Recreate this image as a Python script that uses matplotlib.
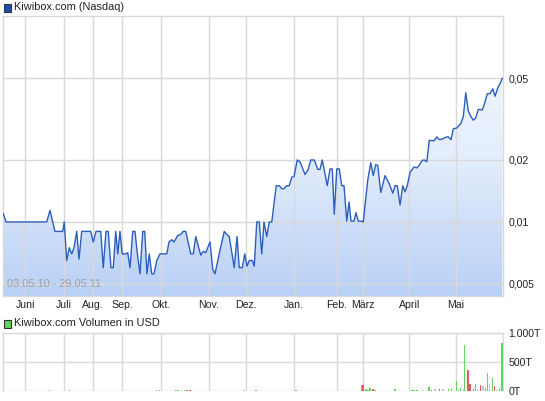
import numpy as np
import matplotlib
matplotlib.use('Agg')
import matplotlib.pyplot as plt
from matplotlib.colors import LinearSegmentedColormap
from matplotlib.patches import Rectangle

plt.rcParams['font.family'] = ['Liberation Sans', 'DejaVu Sans']

# Kurs (Handelstag-Index, Preis in USD)
t_kurs = [0.2, 1.3, 17.6, 18.9, 20.9, 24.0, 24.6, 25.6, 26.6, 27.6, 28.5, 29.6, 30.5, 31.6,
          35.2, 36.2, 37.3, 39.2, 40.2, 41.3, 42.2, 43.3, 44.2, 45.2, 46.0, 46.9, 47.8, 49.3,
          50.0, 50.9, 52.0, 52.9, 53.8, 54.9, 56.0, 56.8, 57.7, 58.6, 59.6, 60.5, 61.6, 62.9,
          65.6, 66.5, 67.6, 68.5, 70.0, 71.2, 72.2, 73.2, 75.2, 76.2, 77.2, 79.2, 80.2, 81.2,
          82.9, 84.0, 84.9, 86.9, 88.6, 89.6, 90.6, 92.6, 93.7, 94.6, 95.8, 96.8, 97.7, 98.6,
          99.8, 100.6, 101.6, 102.6, 103.6, 104.5, 105.6, 106.6, 107.6, 109.4, 110.6, 111.6,
          112.5, 113.6, 114.6, 115.6, 116.5, 117.8, 118.9, 120.9, 122.2, 123.2, 124.6, 126.0,
          126.9, 127.8, 129.8, 130.9, 131.8, 132.6, 133.6, 134.6, 135.6, 136.5, 137.6, 138.5,
          139.3, 140.5, 141.3, 142.2, 143.3, 144.2, 146.0, 147.2, 148.2, 149.2, 150.0, 151.2,
          152.9, 154.5, 156.0, 156.9, 157.8, 158.9, 160.0, 160.9, 161.8, 162.9, 164.5, 165.6,
          166.5, 167.8, 168.6, 169.6, 170.6, 172.6, 173.6, 174.6, 176.0, 177.2, 178.2, 179.3,
          180.2, 181.6, 183.2, 184.2, 185.2, 186.2, 187.3, 188.2, 189.2, 190.2, 191.8, 192.6,
          193.8, 194.9, 196.0, 196.9, 198.0, 198.9, 199.8]
kurs = [0.011, 0.01, 0.01, 0.0114, 0.009, 0.009, 0.01, 0.0065, 0.0075, 0.007, 0.0075, 0.009, 0.0066, 0.009,
        0.009, 0.008, 0.009, 0.009, 0.006, 0.009, 0.009, 0.006, 0.006, 0.009, 0.007, 0.009, 0.007, 0.007,
        0.0071, 0.006, 0.009, 0.009, 0.0071, 0.0056, 0.009, 0.009, 0.0056, 0.007, 0.0056, 0.0056, 0.0065, 0.007,
        0.007, 0.008, 0.0082, 0.008, 0.0086, 0.0087, 0.009, 0.009, 0.007, 0.007, 0.0085, 0.0069, 0.0072, 0.0071,
        0.008, 0.0059, 0.0056, 0.0073, 0.009, 0.0087, 0.0085, 0.006, 0.0085, 0.006, 0.006, 0.007, 0.0061, 0.0065,
        0.0065, 0.0061, 0.01, 0.01, 0.007, 0.01, 0.0085, 0.01, 0.01, 0.015, 0.015, 0.0145,
        0.0145, 0.015, 0.015, 0.0165, 0.0166, 0.02, 0.0196, 0.017, 0.018, 0.02, 0.02, 0.018,
        0.018, 0.02, 0.015, 0.0181, 0.0181, 0.0109, 0.0181, 0.0181, 0.015, 0.015, 0.0101, 0.0125,
        0.0101, 0.0101, 0.0111, 0.0101, 0.0101, 0.01, 0.016, 0.0194, 0.0168, 0.019, 0.0188, 0.0139,
        0.0168, 0.0154, 0.0138, 0.015, 0.015, 0.0121, 0.015, 0.014, 0.015, 0.0174, 0.0185, 0.0183,
        0.0188, 0.0199, 0.02, 0.0196, 0.0249, 0.0248, 0.0259, 0.0251, 0.0253, 0.0258, 0.0259, 0.0251,
        0.0283, 0.0286, 0.03, 0.0324, 0.0424, 0.0345, 0.0324, 0.0312, 0.032, 0.0352, 0.035, 0.0372,
        0.0419, 0.042, 0.0443, 0.0408, 0.0448, 0.0469, 0.0498]

# Monatsanfaenge auf der Index-Achse
monat_pos = [9.1, 24.6, 36.2, 47.8, 63.5, 82.4, 97.4, 116.3, 133.5, 144.2, 162.6, 181.2]
monat_lbl = ['Juni', 'Juli', 'Aug.', 'Sep.', 'Okt.', 'Nov.', 'Dez.', 'Jan.', 'Feb.', 'März', 'April', 'Mai']
t_end = 200.1

y_ticks = [0.005, 0.01, 0.02, 0.05]
y_lbl = ['0,005', '0,01', '0,02', '0,05']

# Volumen (Index, Wert in T, Farbe: g=steigend, r=fallend, n=neutral)
vol_t = [1.0, 3.5, 6.0, 8.5, 11.0, 13.5, 16.0, 18.8, 21.0, 23.5, 26.7, 29.0, 32.0, 35.0, 38.0,
         41.0, 44.0, 47.0, 50.0, 53.0, 56.0, 59.0, 61.4, 62.6, 65.6, 67.7, 69.1, 70.1, 71.6, 72.6,
         73.7, 74.6, 75.1, 76.7, 80.0, 84.0, 87.0, 89.7, 93.0, 96.6, 99.0, 101.3, 105.0, 109.4,
         113.0, 117.3, 121.0, 125.6, 127.9, 131.0, 134.0, 137.2, 140.6, 143.6, 144.1, 145.3, 146.1,
         146.9, 148.1, 148.9, 152.0, 156.9, 158.1, 161.0, 163.7, 164.5, 165.7, 167.8, 170.5, 171.6,
         172.9, 174.7, 176.1, 178.2, 179.6, 181.4, 182.4, 183.0, 184.2, 184.8, 186.1, 186.9, 188.2,
         189.0, 190.0, 191.0, 192.1, 193.0, 193.9, 194.8, 195.8, 196.7, 197.6, 198.6, 199.7]
vol = [6, 5, 7, 5, 6, 5, 7, 20, 6, 5, 18, 6, 7, 5, 6,
       6, 5, 7, 6, 5, 6, 7, 25, 25, 12, 12, 22, 22, 20, 30,
       30, 33, 33, 15, 6, 7, 6, 15, 6, 18, 7, 25, 6, 15,
       6, 18, 7, 15, 12, 7, 6, 15, 12, 107, 107, 34, 27,
       58, 38, 27, 10, 38, 15, 8, 22, 25, 22, 20, 74, 30,
       35, 40, 35, 35, 57, 177, 30, 57, 40, 789, 360, 120, 35,
       120, 30, 109, 86, 57, 314, 120, 223, 86, 30, 63, 829]
vol_col = ['n', 'r', 'n', 'n', 'r', 'n', 'n', 'g', 'n', 'r', 'g', 'n', 'r', 'n', 'n',
           'r', 'n', 'r', 'n', 'r', 'n', 'r', 'g', 'g', 'n', 'n', 'g', 'g', 'n', 'g',
           'r', 'r', 'r', 'g', 'r', 'n', 'r', 'r', 'n', 'g', 'r', 'g', 'n', 'g',
           'r', 'g', 'n', 'r', 'g', 'n', 'r', 'r', 'g', 'g', 'r', 'g', 'g',
           'g', 'r', 'g', 'n', 'g', 'n', 'r', 'g', 'g', 'g', 'g', 'g', 'r',
           'n', 'r', 'n', 'g', 'g', 'g', 'g', 'g', 'n', 'g', 'r', 'r', 'r',
           'g', 'g', 'r', 'n', 'g', 'g', 'n', 'g', 'r', 'g', 'g', 'g']
farben = {'g': '#5fd65f', 'r': '#e25c5c', 'n': '#c6c6c6'}

grid_col = '#d9d9d9'
fs = 7.6

fig = plt.figure(figsize=(5.45, 4.01), dpi=100)
ax = fig.add_axes([0.005, 0.2618, 0.918, 0.6983])
ax2 = fig.add_axes([0.005, 0.0237, 0.918, 0.1466])

ymin, ymax = 0.00437, 0.1

# Kurs-Chart
ax.set_yscale('log')
ax.set_xlim(0, t_end)
ax.set_ylim(ymin, ymax)
cmap = LinearSegmentedColormap.from_list('blau', ['#f4f8fe', '#e4eefc', '#b9d0f5'])
grad = np.linspace(0, 1, 256).reshape(-1, 1)
im = ax.imshow(grad, extent=[0, 1, 0, 1], transform=ax.transAxes, cmap=cmap,
               aspect='auto', origin='upper', zorder=1)
poly = ax.fill_between(t_kurs, kurs, ymin, facecolor='none', edgecolor='none')
im.set_clip_path(poly.get_paths()[0], transform=ax.transData)
ax.plot(t_kurs, kurs, color='#2c5fbb', lw=1.0, zorder=3)
ax.set_xlim(0, t_end)
ax.set_ylim(ymin, ymax)

ax.set_xticks(monat_pos)
ax.set_xticklabels(monat_lbl)
ax.set_yticks(y_ticks)
ax.set_yticklabels(y_lbl)
ax.minorticks_off()
ax.yaxis.tick_right()
ax.tick_params(axis='both', length=0, labelsize=fs, colors='#222222')
ax.tick_params(axis='y', pad=4)
ax.tick_params(axis='x', pad=3)
ax.grid(True, color=grid_col, lw=1.0, zorder=2)
ax.set_axisbelow(False)
for s in ax.spines.values():
    s.set_color(grid_col)
    s.set_linewidth(1.0)
ax.text(0.008, 0.025, '03.05.10 - 29.05.11', transform=ax.transAxes, fontsize=fs + 0.3,
        color='#a3a3a3', va='bottom', ha='left', zorder=4)

# Volumen-Chart
ax2.bar(vol_t, vol, width=0.55, color=[farben[c] for c in vol_col], zorder=3)
ax2.set_xlim(0, t_end)
ax2.set_ylim(0, 1000)
ax2.set_xticks(monat_pos)
ax2.set_xticklabels([])
ax2.set_yticks([0, 500, 1000])
ax2.set_yticklabels(['0T', '500T', '1.000T'])
ax2.yaxis.tick_right()
ax2.tick_params(axis='both', length=0, labelsize=fs, colors='#222222')
ax2.tick_params(axis='y', pad=4)
ax2.grid(True, color=grid_col, lw=1.0, zorder=1)
for s in ax2.spines.values():
    s.set_color(grid_col)
    s.set_linewidth(1.0)
ax2.spines['bottom'].set_visible(False)

# Legenden-Kopfzeilen
W, H = 545.0, 401.0
fig.patches.append(Rectangle((3.5 / W, 1 - 11.5 / H), 7.5 / W, 7.5 / H, transform=fig.transFigure,
                             facecolor='#1f4fb4', edgecolor='#333333', lw=0.8))
fig.text(14.5 / W, 1 - 7.3 / H, 'Kiwibox.com (Nasdaq)', fontsize=fs + 0.3, va='center',
         ha='left', color='#222222')
fig.patches.append(Rectangle((3.5 / W, 1 - 327.5 / H), 7.5 / W, 7.5 / H, transform=fig.transFigure,
                             facecolor='#5fd65f', edgecolor='#333333', lw=0.8))
fig.text(14.5 / W, 1 - 323.5 / H, 'Kiwibox.com Volumen in USD', fontsize=fs + 0.3, va='center',
         ha='left', color='#222222')

fig.savefig('out.png', dpi=100)
